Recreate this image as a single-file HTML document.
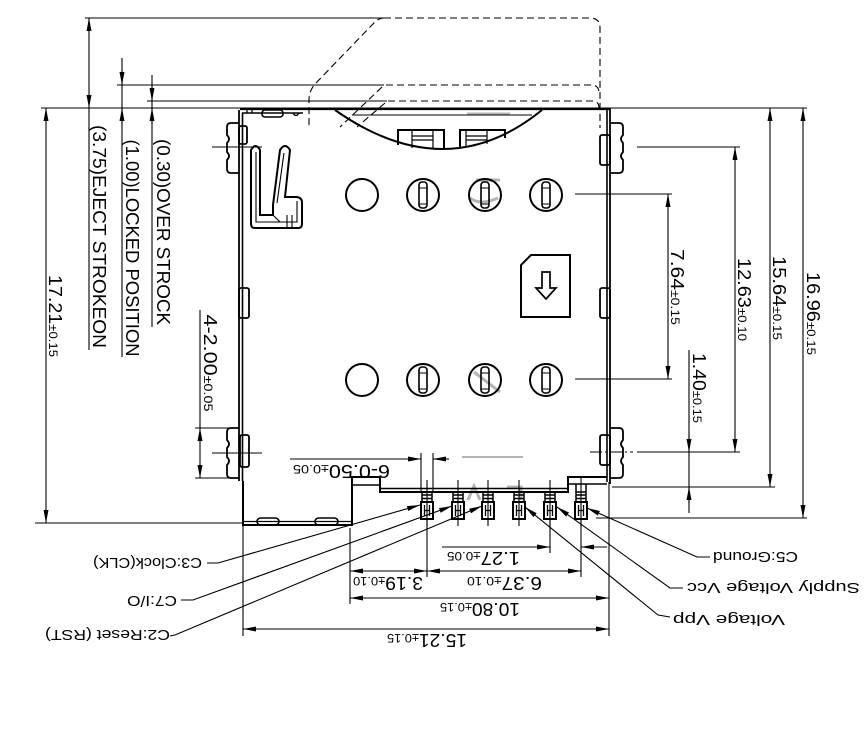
<!DOCTYPE html>
<html><head><meta charset="utf-8"><style>
html,body{margin:0;padding:0;background:#fff;}
svg{display:block;}
text{font-family:"Liberation Sans",sans-serif;fill:#000;}
</style></head><body>
<svg width="867" height="750" viewBox="0 0 867 750" xmlns="http://www.w3.org/2000/svg">
<defs>
<marker id="ar" markerUnits="userSpaceOnUse" markerWidth="14" markerHeight="6" refX="13" refY="3" orient="auto-start-reverse"><path d="M0,0.5 L13,3 L0,5.5 Z" fill="#000"/></marker>
</defs>
<rect width="867" height="750" fill="#fff"/>

<!-- light gray scan artifacts -->
<g stroke="#b4b4b4" fill="none" stroke-width="3">
<line x1="467" y1="114" x2="510" y2="114"/>
<path d="M476,180 L500,180 M470,198 Q480,206 498,198"/>
<path d="M474,372 L500,392"/>
<line x1="462" y1="457" x2="523" y2="457" stroke-width="2"/>
<path d="M468,500 L474,486 L480,500 M507,487 L521,487 L521,500"/>
</g>

<!-- dimension / extension lines -->
<g stroke="#000" stroke-width="1.1" fill="none">
<line x1="85" y1="18" x2="384" y2="18"/>
<line x1="117" y1="85" x2="384" y2="85"/>
<line x1="147" y1="101" x2="387" y2="101"/>
<line x1="41" y1="108" x2="807" y2="108"/>

<!-- left verticals -->
<line x1="89" y1="18" x2="89" y2="108" marker-start="url(#ar)" marker-end="url(#ar)"/>
<line x1="89" y1="108" x2="89" y2="350"/>
<line x1="122" y1="58" x2="122" y2="357"/>
<line x1="122" y1="70" x2="122" y2="85" marker-end="url(#ar)"/>
<line x1="122" y1="124" x2="122" y2="108" marker-end="url(#ar)"/>
<line x1="152" y1="75" x2="152" y2="327"/>
<line x1="152" y1="86" x2="152" y2="101" marker-end="url(#ar)"/>
<line x1="152" y1="124" x2="152" y2="108" marker-end="url(#ar)"/>
<line x1="46" y1="108" x2="46" y2="523" marker-start="url(#ar)" marker-end="url(#ar)"/>
<line x1="35" y1="523" x2="243" y2="523"/>

<!-- 4-2.00 -->
<line x1="200" y1="310" x2="200" y2="428"/>
<line x1="200" y1="428" x2="200" y2="478" marker-start="url(#ar)" marker-end="url(#ar)"/>
<line x1="195" y1="428" x2="230" y2="428"/>
<line x1="195" y1="478" x2="230" y2="478"/>
<line x1="212" y1="147" x2="262" y2="147"/>
<line x1="212" y1="453" x2="262" y2="453"/>

<!-- right dims -->
<line x1="668" y1="194" x2="668" y2="379" marker-start="url(#ar)" marker-end="url(#ar)"/>
<line x1="735" y1="147" x2="735" y2="452" marker-start="url(#ar)" marker-end="url(#ar)"/>
<line x1="770" y1="108" x2="770" y2="487" marker-start="url(#ar)" marker-end="url(#ar)"/>
<line x1="803" y1="108" x2="803" y2="518" marker-start="url(#ar)" marker-end="url(#ar)"/>
<line x1="689" y1="350" x2="689" y2="513"/>
<line x1="689" y1="436" x2="689" y2="452" marker-end="url(#ar)"/>
<line x1="689" y1="503" x2="689" y2="487" marker-end="url(#ar)"/>
<line x1="637" y1="147" x2="740" y2="147"/>
<line x1="575" y1="194" x2="672" y2="194"/>
<line x1="575" y1="379" x2="672" y2="379"/>
<line x1="590" y1="452" x2="633" y2="452" stroke-dasharray="12 3 2 3"/>
<line x1="637" y1="452" x2="740" y2="452"/>
<line x1="612" y1="487" x2="775" y2="487"/>
<line x1="596" y1="518" x2="807" y2="518"/>

<!-- bottom dims -->
<line x1="421" y1="453" x2="421" y2="492"/>
<line x1="433" y1="453" x2="433" y2="492"/>
<line x1="290" y1="459" x2="421" y2="459" marker-end="url(#ar)"/>
<line x1="449" y1="459" x2="433" y2="459" marker-end="url(#ar)"/>
<line x1="550" y1="519" x2="550" y2="553"/>
<line x1="581" y1="519" x2="581" y2="577"/>
<line x1="427" y1="519" x2="427" y2="577"/>
<line x1="442" y1="547" x2="550" y2="547" marker-end="url(#ar)"/>
<line x1="607" y1="547" x2="581" y2="547" marker-end="url(#ar)"/>
<line x1="350" y1="571" x2="427" y2="571" marker-start="url(#ar)" marker-end="url(#ar)"/>
<line x1="427" y1="571" x2="581" y2="571" marker-start="url(#ar)" marker-end="url(#ar)"/>
<line x1="350" y1="528" x2="350" y2="604"/>
<line x1="350" y1="598" x2="609" y2="598" marker-start="url(#ar)" marker-end="url(#ar)"/>
<line x1="243" y1="525" x2="243" y2="636"/>
<line x1="609" y1="482" x2="609" y2="636"/>
<line x1="243" y1="629" x2="609" y2="629" marker-start="url(#ar)" marker-end="url(#ar)"/>

<!-- leaders -->
<polyline points="207,563 218,563 420,505" marker-end="url(#ar)"/>
<polyline points="181,600 193,600 452,506" marker-end="url(#ar)"/>
<polyline points="170,636 175,635 482,506" marker-end="url(#ar)"/>
<polyline points="710,557 697,557 587,508" marker-end="url(#ar)"/>
<polyline points="683,588 670,588 557,507" marker-end="url(#ar)"/>
<polyline points="670,617 658,615 525,507" marker-end="url(#ar)"/>
</g>

<!-- dashed card outlines -->
<g stroke="#000" stroke-width="1.1" fill="none" stroke-dasharray="7 4">
<path d="M384,18 L590,18 Q600,18 600,28 L600,128"/>
<path d="M384,18 Q378,18 373,24 L315,84 Q309,91 309,100 L309,128"/>
<path d="M386,85 L591,85 Q599,85 599,93"/>
<path d="M382,87 L340,127"/>
<path d="M388,101 L592,101 Q599,101 599,108"/>
<path d="M385,103 L357,127"/>
</g>

<!-- card body -->
<g stroke="#000" fill="none">
<line x1="240" y1="109" x2="610" y2="109" stroke-width="2.2"/>
<line x1="239" y1="110" x2="239" y2="481" stroke-width="1.8"/>
<line x1="242.5" y1="113" x2="242.5" y2="481" stroke-width="1.6"/>
<line x1="607" y1="110" x2="607" y2="482" stroke-width="1.6"/>
<line x1="610" y1="108" x2="610" y2="484" stroke-width="1.8"/>
<!-- top-left bumps -->
<line x1="242" y1="113" x2="303" y2="113" stroke-width="1.6"/>
<rect x="262" y="110" width="21" height="7" rx="3" stroke-width="1.6"/>
<path d="M247,109 L247,113 M252,109 L252,113 M293,113 Q296,118 299,113" stroke-width="1.3"/>

<!-- bottom contour -->
<path d="M243,481 L243,525 L352,525 L352,477 L380,477 L380,492 L568,492 L568,477 L607,477" stroke-width="2"/>
<path d="M243,521.5 L352,521.5" stroke-width="1.3"/>
<path d="M352,485 L380,485" stroke-width="1.5"/>
<path d="M380,488.5 L568,488.5" stroke-width="1.6"/>
<path d="M568,484 L607,484" stroke-width="1.5"/>
<rect x="257" y="518" width="22" height="7" rx="3.5" stroke-width="1.6"/>
<rect x="315" y="518" width="23" height="7" rx="3.5" stroke-width="1.6"/>

<!-- latches left -->
<path d="M239,123 L231,123 Q227,123 227,127 L227,135 Q231,139 227,143 L227,152 Q231,156 227,160 L227,169 Q227,173 231,173 L239,173" stroke-width="1.8"/>
<rect x="239" y="126" width="8" height="18" rx="2" stroke-width="1.8"/>
<rect x="239" y="288" width="10" height="30" rx="2" stroke-width="1.8"/>
<path d="M239,428 L231,428 Q227,428 227,432 L227,440 Q231,444 227,448 L227,457 Q231,461 227,465 L227,474 Q227,478 231,478 L239,478" stroke-width="1.8"/>
<rect x="240" y="435" width="9" height="32" rx="2" stroke-width="1.8"/>
<!-- latches right -->
<path d="M610,123 L619,123 Q623,123 623,127 L623,135 Q619,139 623,143 L623,152 Q619,156 623,160 L623,169 Q623,173 619,173 L610,173" stroke-width="1.8"/>
<rect x="600" y="135" width="10" height="30" rx="2" stroke-width="1.8"/>
<rect x="600" y="288" width="10" height="30" rx="2" stroke-width="1.8"/>
<path d="M610,428 L619,428 Q623,428 623,432 L623,440 Q619,444 623,448 L623,457 Q619,461 623,465 L623,474 Q623,478 619,478 L610,478" stroke-width="1.8"/>
<rect x="600" y="435" width="10" height="30" rx="2" stroke-width="1.8"/>

<!-- lock -->
<path d="M251,150 Q255.5,142 260,150 L260,215 L273,215 L273,205 L280,150 Q285,142 290,150 L285,197 L296,197 Q302,197 302,203 L302,224 Q302,228 298,228 L255,228 Q251,228 251,224 Z" stroke-width="2"/>
<path d="M256,152 L256,222 L297,222 L297,201 M277,203 L284,153 M287,215 L287,228 M292,215 L292,228 M273,215 L280,222" stroke-width="1.1"/>

<!-- eject crescent -->
<path d="M335,110 Q446,188 542,110" stroke-width="2"/>
<line x1="352" y1="115" x2="532" y2="115" stroke-width="1.1"/>
<path d="M398,145 L398,130 L444,130 L444,148" stroke-width="2"/>
<path d="M412,131 L412,148 M433,131 L433,148 M412,136 L433,136 M412,140 L433,140" stroke-width="1.2"/>
<path d="M460,147 L460,130 L505,130 L505,138" stroke-width="2"/>
<path d="M466,131 L466,146 M487,131 L487,144 M466,136 L487,136 M466,140 L487,140" stroke-width="1.2"/>

<!-- circles -->
<g stroke-width="2">
<circle cx="362" cy="195" r="16"/>
<circle cx="423" cy="195" r="16"/>
<circle cx="485" cy="195" r="16"/>
<circle cx="546" cy="195" r="16"/>
<circle cx="362" cy="380" r="16"/>
<circle cx="423" cy="380" r="16"/>
<circle cx="485" cy="380" r="16"/>
<circle cx="546" cy="380" r="16"/>
</g>
<g stroke-width="1.6">
<rect x="419" y="182" width="8" height="26" rx="3"/>
<rect x="481" y="182" width="8" height="26" rx="3"/>
<rect x="542" y="182" width="8" height="26" rx="3"/>
<rect x="419" y="367" width="8" height="26" rx="3"/>
<rect x="481" y="367" width="8" height="26" rx="3"/>
<rect x="542" y="367" width="8" height="26" rx="3"/>
<path d="M419,188 L427,188 M419,204 L427,204 M481,188 L489,188 M481,204 L489,204 M542,188 L550,188 M542,204 L550,204 M419,373 L427,373 M419,389 L427,389 M481,373 L489,373 M481,389 L489,389 M542,373 L550,373 M542,389 L550,389" stroke-width="1"/>
</g>

<!-- SIM icon -->
<path d="M531,255 L570,255 L570,317 L521,317 L521,265 Z" stroke-width="2"/>
<path d="M542,272 L550,272 L550,288 L556,288 L546,299 L536,288 L542,288 Z" stroke-width="1.7"/>

<!-- pins -->
<g stroke-width="1.1">
<line x1="427" y1="480" x2="427" y2="526"/>
<line x1="458" y1="480" x2="458" y2="526"/>
<line x1="488" y1="480" x2="488" y2="526"/>
<line x1="519" y1="480" x2="519" y2="526"/>
<line x1="550" y1="480" x2="550" y2="526"/>
<line x1="581" y1="478" x2="581" y2="526"/>
</g>
<g stroke-width="1.5">
<path d="M422,492 L422,502 M432,492 L432,502 M422,495 L432,495 M422,498.5 L432,498.5"/>
<path d="M453,492 L453,502 M463,492 L463,502 M453,495 L463,495 M453,498.5 L463,498.5"/>
<path d="M483,492 L483,502 M493,492 L493,502 M483,495 L493,495 M483,498.5 L493,498.5"/>
<path d="M514,492 L514,502 M524,492 L524,502 M514,495 L524,495 M514,498.5 L524,498.5"/>
<path d="M545,492 L545,502 M555,492 L555,502 M545,495 L555,495 M545,498.5 L555,498.5"/>
<path d="M576,484 L576,502 M586,484 L586,502 M576,492 L586,492 M576,495 L586,495 M576,498.5 L586,498.5"/>
</g>
<g stroke-width="2">
<rect x="421" y="502" width="12" height="17"/>
<rect x="452" y="502" width="12" height="17"/>
<rect x="482" y="502" width="12" height="17"/>
<rect x="513" y="502" width="12" height="17"/>
<rect x="544" y="502" width="12" height="17"/>
<rect x="575" y="502" width="12" height="17"/>
</g>
<g stroke-width="1.3">
<path d="M424.5,505 L424.5,516 M429.5,505 L429.5,516 M424.5,510.5 L429.5,510.5"/>
<path d="M455.5,505 L455.5,516 M460.5,505 L460.5,516 M455.5,510.5 L460.5,510.5"/>
<path d="M485.5,505 L485.5,516 M490.5,505 L490.5,516 M485.5,510.5 L490.5,510.5"/>
<path d="M516.5,505 L516.5,516 M521.5,505 L521.5,516 M516.5,510.5 L521.5,510.5"/>
<path d="M547.5,505 L547.5,516 M552.5,505 L552.5,516 M547.5,510.5 L552.5,510.5"/>
<path d="M578.5,505 L578.5,516 M583.5,505 L583.5,516 M578.5,510.5 L583.5,510.5"/>
</g>
</g>

<!-- rotated 90 texts -->
<g font-size="18" text-anchor="middle">
<text transform="translate(93,236.5) rotate(90)" textLength="223" lengthAdjust="spacingAndGlyphs">(3.75)EJECT STROKEON</text>
<text transform="translate(126,248) rotate(90)" textLength="217" lengthAdjust="spacingAndGlyphs">(1.00)LOCKED POSITION</text>
<text transform="translate(157,232) rotate(90)" textLength="186" lengthAdjust="spacingAndGlyphs">(0.30)OVER STROCK</text>
<text transform="translate(49,316) rotate(90)" textLength="82" lengthAdjust="spacingAndGlyphs">17.21<tspan font-size="12">±0.15</tspan></text>
<text transform="translate(204,363) rotate(90)" textLength="97" lengthAdjust="spacingAndGlyphs">4-2.00<tspan font-size="12">±0.05</tspan></text>
<text transform="translate(671,287) rotate(90)" textLength="76" lengthAdjust="spacingAndGlyphs">7.64<tspan font-size="12">±0.15</tspan></text>
<text transform="translate(738,299.5) rotate(90)" textLength="83" lengthAdjust="spacingAndGlyphs">12.63<tspan font-size="12">±0.10</tspan></text>
<text transform="translate(773,298) rotate(90)" textLength="84" lengthAdjust="spacingAndGlyphs">15.64<tspan font-size="12">±0.15</tspan></text>
<text transform="translate(807,313.5) rotate(90)" textLength="83" lengthAdjust="spacingAndGlyphs">16.96<tspan font-size="12">±0.15</tspan></text>
<text transform="translate(693,388) rotate(90)" textLength="70" lengthAdjust="spacingAndGlyphs">1.40<tspan font-size="12">±0.15</tspan></text>
</g>

<!-- upside-down texts -->
<g font-size="18" text-anchor="middle">
<text transform="translate(341.5,465) rotate(180)" textLength="97" lengthAdjust="spacingAndGlyphs">6-0.50<tspan font-size="12">±0.05</tspan></text>
<text transform="translate(483.5,552) rotate(180)" textLength="73" lengthAdjust="spacingAndGlyphs">1.27<tspan font-size="12">±0.05</tspan></text>
<text transform="translate(388,577) rotate(180)" textLength="70" lengthAdjust="spacingAndGlyphs">3.19<tspan font-size="12">±0.10</tspan></text>
<text transform="translate(504.5,577) rotate(180)" textLength="75" lengthAdjust="spacingAndGlyphs">6.37<tspan font-size="12">±0.10</tspan></text>
<text transform="translate(480,603) rotate(180)" textLength="80" lengthAdjust="spacingAndGlyphs">10.80<tspan font-size="12">±0.15</tspan></text>
<text transform="translate(427,634) rotate(180)" textLength="80" lengthAdjust="spacingAndGlyphs">15.21<tspan font-size="12">±0.15</tspan></text>
</g>
<g font-size="15" text-anchor="middle">
<text transform="translate(147.5,558) rotate(180)" textLength="109" lengthAdjust="spacingAndGlyphs">C3:Clock(CLK)</text>
<text transform="translate(152,596) rotate(180)" textLength="50" lengthAdjust="spacingAndGlyphs">C7:I/O</text>
<text transform="translate(107.5,630) rotate(180)" textLength="125" lengthAdjust="spacingAndGlyphs">C2:Reset (RST)</text>
<text transform="translate(755.5,552) rotate(180)" textLength="85" lengthAdjust="spacingAndGlyphs">C5:Ground</text>
<text transform="translate(773.5,583) rotate(180)" textLength="173" lengthAdjust="spacingAndGlyphs">Supply Voltage Vcc</text>
<text transform="translate(729,615) rotate(180)" textLength="112" lengthAdjust="spacingAndGlyphs">Voltage Vpp</text>
</g>
</svg>
</body></html>
